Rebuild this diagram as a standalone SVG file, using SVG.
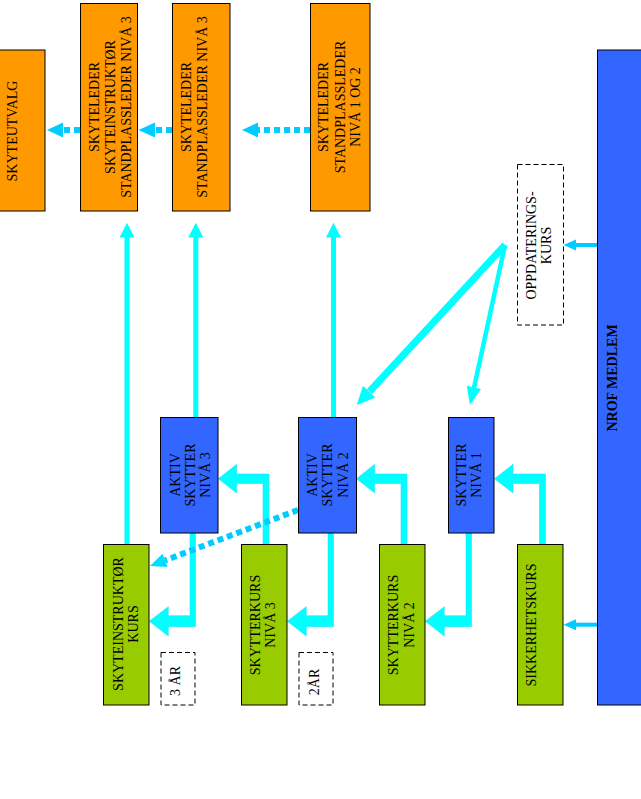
<svg xmlns="http://www.w3.org/2000/svg" width="641" height="799" viewBox="0 0 641 799">
<style>
.box{stroke:#000;stroke-width:1}
.or{fill:#FF9900}
.bl{fill:#3366FF}
.gr{fill:#99CC00}
.dash{fill:#fff;stroke:#000;stroke-width:1;stroke-dasharray:5 3}
text{font-family:"Liberation Serif","Times New Roman",serif;font-size:14px;fill:#000;text-anchor:middle}
.bold{font-weight:bold}
.blk{fill:#00FFFF;stroke:#33DDFF;stroke-width:0.6}
.cy{stroke:#00FFFF;fill:none}
.cyf{fill:#00FFFF}
.dot{stroke:#00CCFF;fill:none;stroke-width:6;stroke-dasharray:6 4}
.dotf{fill:#00CCFF}
.thin{stroke:#00CCFF;stroke-width:4;fill:none}
.thinf{fill:#00CCFF}
</style>
<rect width="641" height="799" fill="#fff"/>

<g id="connectors">
  <!-- dotted arrows top -->
  <line class="dot" x1="80" y1="130" x2="63" y2="130"/>
  <polygon class="dotf" points="47,130 63,122.5 63,137.5"/>
  <line class="dot" x1="172" y1="130" x2="155" y2="130"/>
  <polygon class="dotf" points="138.5,130 155,122.5 155,137.5"/>
  <line class="dot" x1="310" y1="130" x2="258" y2="130"/>
  <polygon class="dotf" points="242,130 258,122.5 258,137.5"/>
  <!-- upward arrows -->
  <line class="cy" stroke-width="5" x1="127" y1="544" x2="127" y2="236"/>
  <polygon class="cyf" points="127,222.7 119.5,237.5 134.5,237.5"/>
  <line class="cy" stroke-width="5" x1="195.8" y1="417" x2="195.8" y2="236"/>
  <polygon class="cyf" points="195.8,222.7 188.3,237.5 203.3,237.5"/>
  <line class="cy" stroke-width="5" x1="333.5" y1="417" x2="333.5" y2="236"/>
  <polygon class="cyf" points="333.5,222.7 326,237.5 341,237.5"/>
  <!-- NROF thin arrows -->
  <line class="thin" x1="597" y1="245" x2="575" y2="245"/>
  <polygon class="thinf" points="563.5,245 576,239.5 576,250.5"/>
  <line class="thin" x1="597" y1="624.7" x2="575" y2="624.7"/>
  <polygon class="thinf" points="563.5,624.7 576,619.2 576,630.2"/>
  <!-- OPPDATERINGS diagonal arrows -->
  <line class="cy" stroke-width="7" x1="505" y1="245" x2="369.5" y2="391.5"/>
  <polygon class="cyf" points="356.7,405 375.5,397.5 363,385.8"/>
  <line class="cy" stroke-width="4.5" x1="505" y1="245" x2="474" y2="388"/>
  <polygon class="cyf" points="470,405 481,389 466.8,385.8"/>
  <!-- up-left block arrows -->
  <polygon class="blk" points="269,544 269,474 236.7,474 236.7,464.3 218.3,478.7 236.7,493 236.7,483.5 263,483.5 263,544"/>
  <polygon class="blk" points="407,544 407,474 374.7,474 374.7,464.3 356.5,478.7 374.7,493 374.7,483.5 401,483.5 401,544"/>
  <polygon class="blk" points="545.5,544 545.5,474 513,474 513,464.3 494.5,478.7 513,493 513,483.5 539.5,483.5 539.5,544"/>
  <!-- down-left block arrows -->
  <polygon class="blk" points="190,533 190,615.7 168.3,615.7 168.3,606.7 149.3,621.2 168.3,636 168.3,626.7 195.5,626.7 195.5,533"/>
  <polygon class="blk" points="328,533 328,615.7 306.3,615.7 306.3,606.7 287.3,621.2 306.3,636 306.3,626.7 333.5,626.7 333.5,533"/>
  <polygon class="blk" points="466,533 466,615.7 444.3,615.7 444.3,606.7 425.3,621.2 444.3,636 444.3,626.7 471.5,626.7 471.5,533"/>
  <!-- diagonal dotted -->
  <line class="dot" stroke="#00DDFF" stroke-width="5" x1="298" y1="510" x2="165" y2="560.4"/>
  <polygon fill="#00DDFF" points="150,566 167.5,567 162.5,553.8"/>
</g>

<g id="skyteutvalg">
  <rect class="box or" x="-21" y="50" width="66" height="161"/>
  <text transform="translate(12,131) rotate(-90)"><tspan x="0" y="4.6">SKYTEUTVALG</tspan></text>
</g>
<g id="skyteleder-instruktor">
  <rect class="box or" x="80.5" y="3.5" width="57" height="207.5"/>
  <text transform="translate(110,107) rotate(-90)"><tspan x="0" y="-11.1">SKYTELEDER</tspan><tspan x="0" y="4.6">SKYTEINSTRUKTØR</tspan><tspan x="0" y="20.6">STANDPLASSLEDER NIVÅ 3</tspan></text>
</g>
<g id="skyteleder-niva3">
  <rect class="box or" x="172.5" y="3.5" width="57.5" height="207.5"/>
  <text transform="translate(194.5,107) rotate(-90)"><tspan x="0" y="-3.2">SKYTELEDER</tspan><tspan x="0" y="12.4">STANDPLASSLEDER NIVÅ 3</tspan></text>
</g>
<g id="skyteleder-niva12">
  <rect class="box or" x="310.5" y="3.5" width="59.5" height="207.5"/>
  <text transform="translate(340,107) rotate(-90)"><tspan x="0" y="-12.1">SKYTELEDER</tspan><tspan x="0" y="4.6">STANDPLASSLEDER</tspan><tspan x="0" y="20.3">NIVÅ 1 OG 2</tspan></text>
</g>
<g id="nrof-medlem">
  <rect class="box bl" x="597.5" y="50" width="60" height="655"/>
  <text class="bold" transform="translate(612,378) rotate(-90)"><tspan x="0" y="4.6">NROF MEDLEM</tspan></text>
</g>
<g id="oppdateringskurs">
  <rect class="dash" x="517.5" y="164.5" width="46" height="160.5"/>
  <text transform="translate(539,245.5) rotate(-90)"><tspan x="0" y="-2.7">OPPDATERINGS-</tspan><tspan x="0" y="12.3">KURS</tspan></text>
</g>
<g id="aktiv-niva3">
  <rect class="box bl" x="160.5" y="417.5" width="57.5" height="115.5"/>
  <text transform="translate(190,475) rotate(-90)"><tspan x="0" y="-10.4">AKTIV</tspan><tspan x="0" y="4.6">SKYTTER</tspan><tspan x="0" y="19.6">NIVÅ 3</tspan></text>
</g>
<g id="aktiv-niva2">
  <rect class="box bl" x="298.5" y="417.5" width="58" height="115.5"/>
  <text transform="translate(327.5,475) rotate(-90)"><tspan x="0" y="-11">AKTIV</tspan><tspan x="0" y="4.6">SKYTTER</tspan><tspan x="0" y="20.2">NIVÅ 2</tspan></text>
</g>
<g id="skytter-niva1">
  <rect class="box bl" x="448.5" y="417.5" width="45.5" height="115.5"/>
  <text transform="translate(469,475) rotate(-90)"><tspan x="0" y="-2.9">SKYTTER</tspan><tspan x="0" y="12.1">NIVÅ 1</tspan></text>
</g>
<g id="skyteinstruktor-kurs">
  <rect class="box gr" x="103.5" y="544.5" width="45.5" height="160.5"/>
  <text transform="translate(126,624) rotate(-90)"><tspan x="0" y="-3.1">SKYTEINSTRUKTØR</tspan><tspan x="0" y="11.9">KURS</tspan></text>
</g>
<g id="skytterkurs-niva3">
  <rect class="box gr" x="241.5" y="544.5" width="45.5" height="160.5"/>
  <text transform="translate(262.5,625) rotate(-90)"><tspan x="0" y="-2.9">SKYTTERKURS</tspan><tspan x="0" y="12.1">NIVÅ 3</tspan></text>
</g>
<g id="skytterkurs-niva2">
  <rect class="box gr" x="379.5" y="544.5" width="45.5" height="160.5"/>
  <text transform="translate(401,625) rotate(-90)"><tspan x="0" y="-3.1">SKYTTERKURS</tspan><tspan x="0" y="12.9">NIVÅ 2</tspan></text>
</g>
<g id="sikkerhetskurs">
  <rect class="box gr" x="517.5" y="544.5" width="45.5" height="160.5"/>
  <text transform="translate(531,625) rotate(-90)"><tspan x="0" y="4.6">SIKKERHETSKURS</tspan></text>
</g>
<g id="tre-ar">
  <rect class="dash" x="161" y="652.5" width="34" height="52.5"/>
  <text transform="translate(175,681) rotate(-90)"><tspan x="0" y="4.6">3 ÅR</tspan></text>
</g>
<g id="to-ar">
  <rect class="dash" x="299" y="652.5" width="34" height="52.5"/>
  <text transform="translate(314,682) rotate(-90)"><tspan x="0" y="4.6">2ÅR</tspan></text>
</g>
</svg>
